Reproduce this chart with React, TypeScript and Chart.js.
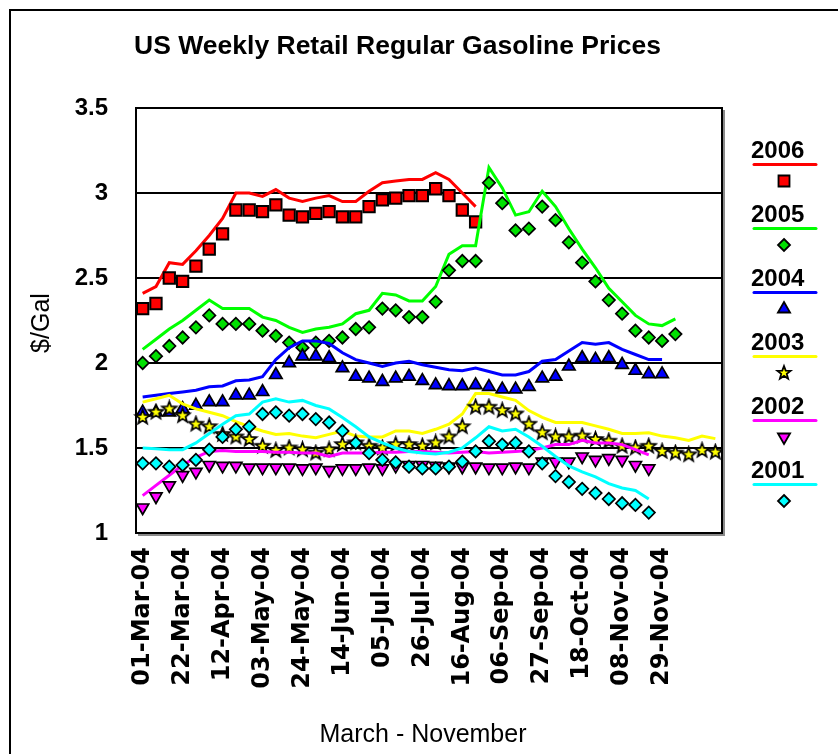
import React, { useEffect, useRef } from 'react';
import { Chart, registerables } from 'chart.js';

Chart.register(...registerables);

const weekLabels = [
  '01-Mar-04', '08-Mar-04', '15-Mar-04', '22-Mar-04', '29-Mar-04', '05-Apr-04', '12-Apr-04', '19-Apr-04',
  '26-Apr-04', '03-May-04', '10-May-04', '17-May-04', '24-May-04', '31-May-04', '07-Jun-04', '14-Jun-04',
  '21-Jun-04', '28-Jun-04', '05-Jul-04', '12-Jul-04', '19-Jul-04', '26-Jul-04', '02-Aug-04', '09-Aug-04',
  '16-Aug-04', '23-Aug-04', '30-Aug-04', '06-Sep-04', '13-Sep-04', '20-Sep-04', '27-Sep-04', '04-Oct-04',
  '11-Oct-04', '18-Oct-04', '25-Oct-04', '01-Nov-04', '08-Nov-04', '15-Nov-04', '22-Nov-04', '29-Nov-04',
  '06-Dec-04', '13-Dec-04', '20-Dec-04', '27-Dec-04',
];

// tick labels shown on the axis (every third week up to 29-Nov-04)
const tickLabels = [
  '01-Mar-04', '22-Mar-04', '12-Apr-04', '03-May-04', '24-May-04', '14-Jun-04', '05-Jul-04',
  '26-Jul-04', '16-Aug-04', '06-Sep-04', '27-Sep-04', '18-Oct-04', '08-Nov-04', '29-Nov-04',
];

const yearNames = ['2006', '2005', '2004', '2003', '2002', '2001'];

const line2006 = [2.41, 2.45, 2.59, 2.58, 2.66, 2.75, 2.85, 3.0, 3.0, 2.98, 3.02, 2.97, 2.95, 2.97, 2.985, 2.95,
  2.95, 3.01, 3.06, 3.07, 3.08, 3.08, 3.12, 3.08, 3.0, 2.92];
const pts2006 = [2.32, 2.35, 2.5, 2.48, 2.57, 2.67, 2.76, 2.9, 2.9, 2.89, 2.93, 2.87, 2.86, 2.88, 2.89, 2.86,
  2.86, 2.92, 2.96, 2.97, 2.985, 2.985, 3.025, 2.985, 2.9, 2.83];

const line2005 = [2.08, 2.14, 2.2, 2.25, 2.31, 2.37, 2.32, 2.32, 2.32, 2.27, 2.25, 2.21, 2.18, 2.2, 2.21, 2.23,
  2.29, 2.31, 2.41, 2.4, 2.365, 2.365, 2.45, 2.64, 2.69, 2.69, 3.15, 3.03, 2.87, 2.89, 3.01, 2.92, 2.79, 2.67,
  2.56, 2.44, 2.36, 2.28, 2.23, 2.22, 2.26];
const pts2005 = [2.0, 2.04, 2.1, 2.15, 2.21, 2.28, 2.23, 2.23, 2.23, 2.19, 2.16, 2.12, 2.09, 2.12, 2.13, 2.15,
  2.2, 2.21, 2.32, 2.31, 2.27, 2.27, 2.36, 2.545, 2.6, 2.6, 3.06, 2.94, 2.78, 2.79, 2.92, 2.84, 2.71, 2.59,
  2.48, 2.37, 2.29, 2.19, 2.15, 2.13, 2.17];

const line2004 = [1.8, 1.81, 1.82, 1.83, 1.84, 1.86, 1.865, 1.895, 1.9, 1.92, 2.02, 2.09, 2.13, 2.13, 2.115, 2.06,
  2.02, 2.0, 1.98, 2.0, 2.01, 1.99, 1.975, 1.96, 1.955, 1.97, 1.95, 1.93, 1.93, 1.95, 2.01, 2.02, 2.07, 2.12,
  2.11, 2.12, 2.08, 2.05, 2.02, 2.02];
const pts2004 = [1.71, 1.71, 1.71, 1.73, 1.75, 1.77, 1.77, 1.81, 1.81, 1.83, 1.93, 2.0, 2.04, 2.04, 2.03, 1.97,
  1.92, 1.91, 1.89, 1.91, 1.92, 1.895, 1.87, 1.865, 1.865, 1.87, 1.86, 1.845, 1.845, 1.86, 1.91, 1.92, 1.98,
  2.03, 2.02, 2.03, 1.99, 1.955, 1.935, 1.935];

const line2003 = [1.77, 1.79, 1.81, 1.76, 1.73, 1.71, 1.69, 1.655, 1.625, 1.6, 1.58, 1.585, 1.57, 1.56, 1.58, 1.6,
  1.57, 1.565, 1.565, 1.6, 1.6, 1.585, 1.61, 1.64, 1.7, 1.82, 1.82, 1.8, 1.78, 1.72, 1.68, 1.65, 1.65, 1.65,
  1.63, 1.61, 1.585, 1.585, 1.59, 1.57, 1.56, 1.545, 1.57, 1.555];
const pts2003 = [1.68, 1.71, 1.73, 1.69, 1.64, 1.625, 1.58, 1.565, 1.55, 1.51, 1.485, 1.5, 1.49, 1.47, 1.49, 1.52,
  1.53, 1.51, 1.5, 1.52, 1.52, 1.51, 1.53, 1.565, 1.625, 1.74, 1.74, 1.72, 1.7, 1.64, 1.59, 1.565, 1.565, 1.57,
  1.55, 1.54, 1.51, 1.5, 1.51, 1.48, 1.47, 1.46, 1.485, 1.475];

const line2002 = [1.22, 1.28, 1.34, 1.4, 1.445, 1.48, 1.485, 1.48, 1.48, 1.48, 1.475, 1.475, 1.47, 1.47, 1.45, 1.47,
  1.47, 1.47, 1.475, 1.475, 1.48, 1.48, 1.475, 1.47, 1.475, 1.48, 1.47, 1.475, 1.48, 1.485, 1.5, 1.52, 1.52,
  1.545, 1.53, 1.53, 1.52, 1.49, 1.46];
const pts2002 = [1.15, 1.215, 1.28, 1.34, 1.36, 1.4, 1.395, 1.395, 1.385, 1.385, 1.385, 1.385, 1.38, 1.385, 1.37,
  1.38, 1.38, 1.385, 1.38, 1.395, 1.4, 1.4, 1.395, 1.39, 1.39, 1.39, 1.385, 1.385, 1.39, 1.385, 1.42, 1.42, 1.42,
  1.45, 1.43, 1.44, 1.43, 1.4, 1.38];

const line2001 = [1.5, 1.495, 1.49, 1.49, 1.53, 1.585, 1.64, 1.69, 1.7, 1.77, 1.79, 1.77, 1.78, 1.75, 1.73, 1.68,
  1.625, 1.565, 1.53, 1.5, 1.48, 1.47, 1.465, 1.475, 1.5, 1.56, 1.625, 1.6, 1.61, 1.565, 1.51, 1.45, 1.395, 1.36,
  1.33, 1.29, 1.265, 1.25, 1.2];
const pts2001 = [1.41, 1.41, 1.39, 1.4, 1.43, 1.49, 1.565, 1.61, 1.625, 1.7, 1.71, 1.69, 1.7, 1.67, 1.65, 1.6, 1.53,
  1.47, 1.43, 1.415, 1.39, 1.38, 1.38, 1.39, 1.42, 1.48, 1.54, 1.52, 1.53, 1.48, 1.41, 1.335, 1.3, 1.26, 1.235,
  1.2, 1.175, 1.165, 1.12];

const lineColors = ['#FF0000', '#00FF00', '#0000FF', '#FFFF00', '#FF00FF', '#00FFFF'];
const markerColors = ['#FF0000', '#00E000', '#0000FF', '#FFFF00', '#FF00FF', '#00FFFF'];
const markerStyles = ['rect', 'rectRot', 'triangle', 'star', 'triangleDown', 'rectRot'];

const FONT = "'Liberation Sans', Arial, sans-serif";
const TICK_FONT = "'DejaVu Sans', 'Liberation Sans', sans-serif";

function drawStarPath(ctx: CanvasRenderingContext2D, cx: number, cy: number, R: number) {
  const r = R * 0.42;
  ctx.beginPath();
  for (let k = 0; k < 10; k++) {
    const ang = -Math.PI / 2 + (k * Math.PI) / 5;
    const rad = k % 2 === 0 ? R : r;
    const px = cx + rad * Math.cos(ang);
    const py = cy + rad * Math.sin(ang);
    if (k === 0) ctx.moveTo(px, py);
    else ctx.lineTo(px, py);
  }
  ctx.closePath();
}

function makeStar(fill: string, R: number) {
  const c = document.createElement('canvas');
  const size = Math.ceil(R * 2 + 4);
  c.width = size;
  c.height = size;
  const ctx = c.getContext('2d')!;
  drawStarPath(ctx, size / 2, size / 2, R);
  ctx.fillStyle = fill;
  ctx.fill();
  ctx.lineWidth = 1.7;
  ctx.strokeStyle = '#000';
  ctx.stroke();
  return c;
}

function drawMarker(ctx: CanvasRenderingContext2D, style: string, x: number, y: number, fill: string) {
  ctx.save();
  ctx.fillStyle = fill;
  ctx.strokeStyle = '#000';
  ctx.lineWidth = 1.8;
  ctx.beginPath();
  if (style === 'rect') {
    ctx.rect(x - 5.5, y - 5.5, 11, 11);
  } else if (style === 'rectRot') {
    const r = 6;
    ctx.moveTo(x, y - r);
    ctx.lineTo(x + r, y);
    ctx.lineTo(x, y + r);
    ctx.lineTo(x - r, y);
    ctx.closePath();
  } else if (style === 'triangle') {
    const r = 7;
    ctx.moveTo(x, y - r);
    ctx.lineTo(x + r * 0.866, y + r / 2);
    ctx.lineTo(x - r * 0.866, y + r / 2);
    ctx.closePath();
  } else if (style === 'triangleDown') {
    const r = 7;
    ctx.moveTo(x, y + r);
    ctx.lineTo(x + r * 0.866, y - r / 2);
    ctx.lineTo(x - r * 0.866, y - r / 2);
    ctx.closePath();
  } else if (style === 'star') {
    drawStarPath(ctx, x, y, 7);
  }
  ctx.fill();
  ctx.stroke();
  ctx.restore();
}

const decorPlugin = {
  id: 'decor',
  afterDatasetsDraw(chart: any) {
    const { ctx, chartArea } = chart;
    const { left, top, right, bottom } = chartArea;
    ctx.save();
    ctx.strokeStyle = '#8a8a8a';
    ctx.lineWidth = 2;
    ctx.beginPath();
    ctx.moveTo(left + 2, bottom + 2);
    ctx.lineTo(right + 2, bottom + 2);
    ctx.lineTo(right + 2, top + 2);
    ctx.stroke();
    ctx.strokeStyle = '#000';
    ctx.lineWidth = 2;
    ctx.strokeRect(left, top, right - left, bottom - top);
    ctx.restore();
  },
  afterDraw(chart: any) {
    const { ctx } = chart;
    ctx.save();
    ctx.strokeStyle = '#000';
    ctx.lineWidth = 2;
    ctx.strokeRect(10, 10, 900, 900);

    ctx.fillStyle = '#000';
    ctx.font = `bold 26.5px ${FONT}`;
    ctx.textAlign = 'center';
    ctx.textBaseline = 'alphabetic';
    ctx.fillText('US Weekly Retail Regular Gasoline Prices', 397.5, 54);

    ctx.font = `25px ${FONT}`;
    ctx.fillText('March - November', 423, 742);

    ctx.save();
    ctx.translate(49, 323);
    ctx.rotate(-Math.PI / 2);
    ctx.fillText('$/Gal', 0, 0);
    ctx.restore();

    for (let i = 0; i < yearNames.length; i++) {
      const baseY = 158 + 64 * i;
      ctx.font = `bold 24px ${FONT}`;
      ctx.textAlign = 'left';
      ctx.fillStyle = '#000';
      ctx.fillText(yearNames[i], 751, baseY);
      ctx.strokeStyle = lineColors[i];
      ctx.lineWidth = 3;
      ctx.lineCap = 'round';
      ctx.beginPath();
      ctx.moveTo(754, baseY + 6.5);
      ctx.lineTo(816, baseY + 6.5);
      ctx.stroke();
      drawMarker(ctx, markerStyles[i], 784, baseY + 23, markerColors[i]);
    }
    ctx.restore();
  },
};

export default function App() {
  const canvasRef = useRef<HTMLCanvasElement | null>(null);

  useEffect(() => {
    if (!canvasRef.current) return;
    const star = makeStar('#FFFF00', 7.5);
    const lines = [line2006, line2005, line2004, line2003, line2002, line2001];
    const pts = [pts2006, pts2005, pts2004, pts2003, pts2002, pts2001];
    const radii = [8, 6.2, 7.2, 7.5, 7, 6.2];
    const datasets: any[] = [];
    for (let i = 0; i < 6; i++) {
      const idx = i * 2;
      datasets.push({
        label: yearNames[i],
        data: lines[i],
        borderColor: lineColors[i],
        backgroundColor: lineColors[i],
        borderWidth: 3,
        pointRadius: 0,
        tension: 0,
        fill: false,
        order: 20 - idx,
      });
      const style = markerStyles[i];
      datasets.push({
        label: yearNames[i] + ' ',
        data: pts[i],
        showLine: false,
        pointStyle: style === 'star' ? star : style === 'triangleDown' ? 'triangle' : style,
        rotation: style === 'triangleDown' ? 180 : 0,
        pointRadius: radii[i],
        pointBackgroundColor: markerColors[i],
        pointBorderColor: '#000',
        pointBorderWidth: style === 'rect' ? 2 : 1.7,
        borderColor: '#000',
        backgroundColor: markerColors[i],
        order: 19 - idx,
      });
    }

    const chart = new Chart(canvasRef.current, {
      type: 'line',
      data: { labels: weekLabels, datasets },
      plugins: [decorPlugin],
      options: {
        animation: false,
        responsive: false,
        devicePixelRatio: 1,
        layout: { padding: { top: 108, right: 116, bottom: 0, left: 0 } },
        plugins: {
          legend: { display: false },
          title: { display: false },
          tooltip: { enabled: false },
        },
        scales: {
          x: {
            type: 'category',
            offset: true,
            grid: { display: false, drawTicks: false },
            border: { display: false },
            ticks: {
              autoSkip: false,
              minRotation: 90,
              maxRotation: 90,
              padding: 14,
              color: '#000',
              font: { family: TICK_FONT, size: 24, weight: 'bold' },
              callback: (_v: any, i: number) => (i % 3 === 0 && tickLabels[i / 3] ? tickLabels[i / 3] : ''),
            },
            afterFit: (s: any) => {
              s.height = 221;
            },
          },
          y: {
            min: 1,
            max: 3.5,
            grid: { color: '#000', lineWidth: 2, drawTicks: false },
            border: { display: false },
            ticks: {
              stepSize: 0.5,
              padding: 28,
              color: '#000',
              font: { family: FONT, size: 24, weight: 'bold' },
              callback: (v: any) => String(v),
            },
            afterFit: (s: any) => {
              s.width = 136;
            },
          },
        },
      },
    });
    return () => chart.destroy();
  }, []);

  return (
    <div style={{ position: 'fixed', left: 0, top: 0, width: 838, height: 754, background: '#fff' }}>
      <canvas ref={canvasRef} width={838} height={754} style={{ display: 'block' }} />
    </div>
  );
}
